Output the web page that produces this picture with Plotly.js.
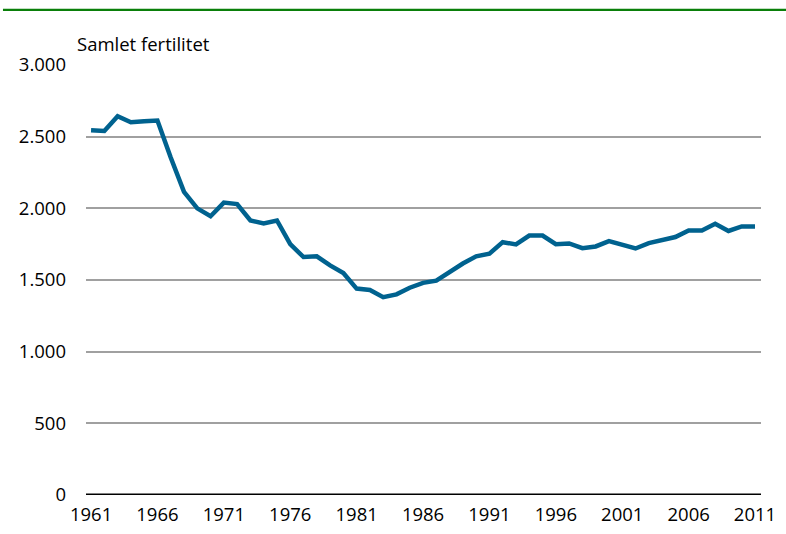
<!DOCTYPE html>
<html>
<head>
<meta charset="utf-8">
<script src="https://cdn.plot.ly/plotly-3.0.1.min.js"></script>
<style>html,body{margin:0;padding:0;background:#fff;}#chart{width:786px;height:534px;}</style>
</head>
<body>
<div id="chart"></div>
<script>
const years = [1961,1962,1963,1964,1965,1966,1967,1968,1969,1970,
  1971,1972,1973,1974,1975,1976,1977,1978,1979,1980,
  1981,1982,1983,1984,1985,1986,1987,1988,1989,1990,
  1991,1992,1993,1994,1995,1996,1997,1998,1999,2000,
  2001,2002,2003,2004,2005,2006,2007,2008,2009,2010,2011];
const fertility = [2545,2540,2643,2600,2608,2613,2355,2115,2000,1945,
  2040,2030,1915,1895,1915,1750,1660,1665,1602,1548,
  1440,1430,1380,1400,1446,1480,1495,1555,1615,1665,
  1683,1764,1748,1810,1810,1750,1755,1722,1734,1771,
  1746,1720,1757,1781,1800,1846,1846,1893,1842,1874,1874];
const yTicks = [0,500,1000,1500,2000,2500,3000];
const xTicks = [1961,1966,1971,1976,1981,1986,1991,1996,2001,2006,2011];
const yLabel = 'Samlet fertilitet';

const font = {family: '"Open Sans", sans-serif', size: 18.5, color: '#000'};

Plotly.newPlot('chart', [{
  x: years, y: fertility, type: 'scatter', mode: 'lines',
  line: {color: '#00628f', width: 4.5}, hoverinfo: 'skip'
}], {
  width: 786, height: 534,
  margin: {l: 86, r: 25, t: 65, b: 39},
  paper_bgcolor: '#fff', plot_bgcolor: '#fff',
  separators: ',.',
  font: font,
  showlegend: false,
  xaxis: {
    range: [1960.62, 2011.45], tickvals: xTicks, tickformat: 'd',
    showgrid: false, zeroline: false, showline: false, ticks: '',
    ticklabelstandoff: 6, tickfont: font
  },
  yaxis: {
    range: [0, 3000], tickvals: yTicks, tickformat: ',d',
    showgrid: true, gridcolor: '#a0a0a0', gridwidth: 2,
    zeroline: false, showline: false, ticks: '',
    ticklabelstandoff: 19, tickfont: font
  },
  shapes: [
    {type: 'line', xref: 'paper', yref: 'y', x0: 0, x1: 1, y0: 0, y1: 0, line: {color: '#000', width: 3}},
    {type: 'line', xref: 'paper', yref: 'paper', x0: -0.123, x1: 1.04, y0: 1.128, y1: 1.128, line: {color: '#0a7f0a', width: 2.2}}
  ],
  annotations: [{
    text: yLabel, xref: 'paper', yref: 'paper', x: -0.017, y: 1.051,
    xanchor: 'left', yanchor: 'middle', showarrow: false, font: font
  }]
}, {displayModeBar: false, staticPlot: true});
</script>
</body>
</html>
